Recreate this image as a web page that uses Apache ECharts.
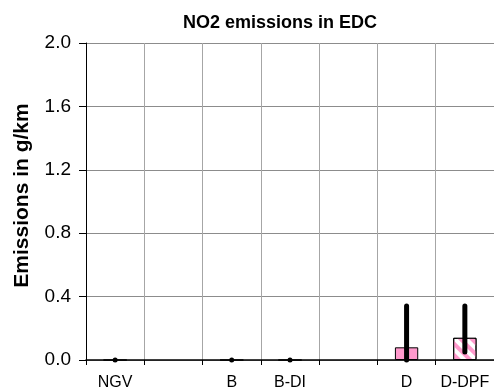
<!DOCTYPE html>
<html>
<head>
<meta charset="utf-8">
<script src="https://cdn.jsdelivr.net/npm/echarts@6/dist/echarts.min.js"></script>
<style>
  html, body { margin: 0; padding: 0; background: #fff; }
  #chart { width: 494px; height: 392px; }
</style>
</head>
<body>
<div id="chart"></div>
<script>
const categories = ['NGV', '', 'B', 'B-DI', '', 'D', 'D-DPF'];
const meanValues = [0, null, 0, 0, null, 0.08, 0.14];
const errLow = [0, null, 0, 0, null, 0.0, 0.05];
const errHigh = [0, null, 0, 0, null, 0.34, 0.34];
const yTicks = [0, 0.4, 0.8, 1.2, 1.6, 2.0];

const pink = '#ff99cc';
const font = 'Liberation Sans, Arial, sans-serif';

const chart = echarts.init(document.getElementById('chart'));

// plain bars for D, hatched bar for D-DPF
const barData = meanValues.map((v, i) => {
    if (categories[i] === 'D-DPF') {
        return {
            value: v,
            itemStyle: {
                color: '#fff',
                decal: {
                    symbol: 'rect',
                    symbolSize: 1,
                    color: pink,
                    dashArrayX: [1, 0],
                    dashArrayY: [4, 4],
                    rotation: Math.PI / 4
                }
            }
        };
    }
    return v;
});

const errData = categories.map((c, i) => [i, errLow[i], errHigh[i]]);

const option = {
    animation: false,
    backgroundColor: '#fff',
    title: {
        text: 'NO2 emissions in EDC',
        left: 275,
        top: 9,
        textAlign: 'center',
        textStyle: { fontFamily: font, fontSize: 18, fontWeight: 'bold', color: '#000' }
    },
    grid: { left: 86, top: 43, width: 410, height: 317 },
    xAxis: {
        type: 'category',
        data: categories,
        axisLine: { lineStyle: { color: '#000', width: 1.5 } },
        axisTick: { show: true, length: 5, lineStyle: { color: '#000' } },
        axisLabel: { fontFamily: font, fontSize: 16, color: '#000', margin: 15, interval: 0 },
        splitLine: { show: true, lineStyle: { color: '#a6a6a6', width: 1 } }
    },
    yAxis: {
        type: 'value',
        min: 0,
        max: 2.0,
        interval: 0.4,
        name: 'Emissions in g/km',
        nameLocation: 'middle',
        nameGap: 53,
        nameTextStyle: {
            fontFamily: font, fontSize: 21, fontWeight: 'bold', color: '#000',
            padding: [0, 0, 0, 12]
        },
        axisLine: { show: true, lineStyle: { color: '#000', width: 1 } },
        axisTick: { show: true, length: 7, lineStyle: { color: '#000' } },
        axisLabel: {
            fontFamily: font, fontSize: 19, color: '#000', margin: 15,
            formatter: v => yTicks.includes(+v.toFixed(1)) ? v.toFixed(1) : ''
        },
        splitLine: { show: true, lineStyle: { color: '#8c8c8c', width: 1 } }
    },
    series: [
        {
            type: 'bar',
            data: barData,
            barWidth: '40%',
            itemStyle: { color: pink, borderColor: '#000', borderWidth: 1 }
        },
        {
            type: 'custom',
            data: errData,
            z: 10,
            renderItem: (params, api) => {
                const lo = api.value(1);
                const hi = api.value(2);
                if (lo == null || isNaN(lo)) return;
                const p1 = api.coord([api.value(0), lo]);
                const p2 = api.coord([api.value(0), hi]);
                if (lo === hi) {
                    return {
                        type: 'circle',
                        shape: { cx: p1[0], cy: p1[1], r: 2.5 },
                        style: { fill: '#000' }
                    };
                }
                return {
                    type: 'line',
                    shape: { x1: p1[0], y1: p1[1], x2: p2[0], y2: p2[1] },
                    style: { stroke: '#000', lineWidth: 5, lineCap: 'round' }
                };
            }
        }
    ]
};

chart.setOption(option);
</script>
</body>
</html>
